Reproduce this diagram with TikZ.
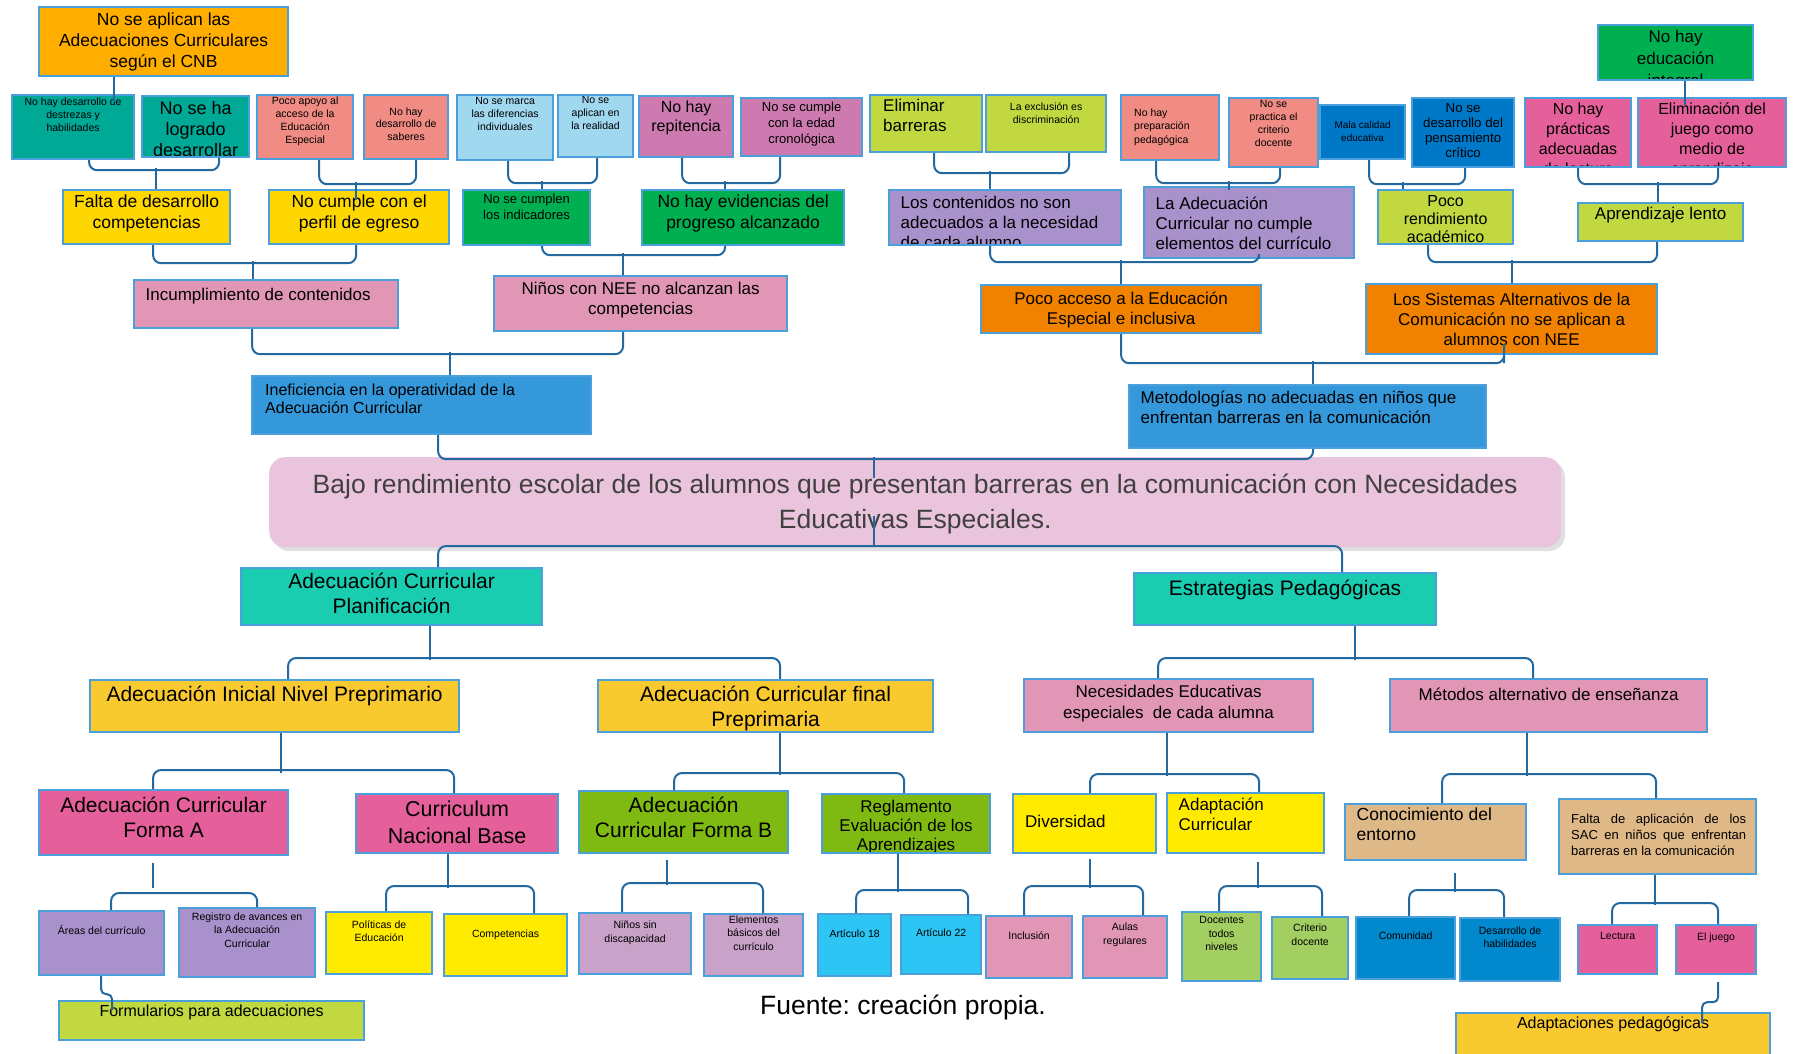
\documentclass[tikz,border=0pt]{standalone}
\usepackage{fontspec}
\setmainfont{Liberation Sans}
\frenchspacing
\newcommand\fz[2]{\fontsize{#1}{#2}\selectfont}
\definecolor{cOrA}{RGB}{255,174,0}
\definecolor{cTeal}{RGB}{0,168,150}
\definecolor{cSal}{RGB}{240,140,132}
\definecolor{cLb}{RGB}{160,216,240}
\definecolor{cMau}{RGB}{204,122,176}
\definecolor{cGr}{RGB}{0,176,80}
\definecolor{cYg}{RGB}{194,216,64}
\definecolor{cPu}{RGB}{169,145,204}
\definecolor{cDb}{RGB}{0,120,200}
\definecolor{cHp}{RGB}{229,96,154}
\definecolor{cYe}{RGB}{255,215,0}
\definecolor{cLp}{RGB}{224,150,180}
\definecolor{cMb}{RGB}{52,152,219}
\definecolor{cOr}{RGB}{240,130,0}
\definecolor{cTp}{RGB}{234,196,220}
\definecolor{cTe2}{RGB}{26,204,176}
\definecolor{cGo}{RGB}{249,201,48}
\definecolor{cGr2}{RGB}{127,186,18}
\definecolor{cLg}{RGB}{162,206,98}
\definecolor{cCy}{RGB}{45,197,244}
\definecolor{cLi}{RGB}{200,162,200}
\definecolor{cTan}{RGB}{222,184,135}
\definecolor{cBy}{RGB}{255,235,0}
\definecolor{cB2}{RGB}{2,136,204}
\definecolor{cBord}{RGB}{75,160,220}
\definecolor{cConn}{RGB}{35,105,160}
\definecolor{cTitle}{RGB}{64,64,64}
\tikzset{
  box/.style={rectangle, draw=cBord, line width=2.2pt, inner sep=0pt, anchor=north west},
  txt/.style={draw=none, fill=none, minimum width=0pt, minimum height=0pt, text=black, yshift=2.5pt},
  tc/.style={anchor=north, at={(path picture bounding box.north)}, align=center, inner xsep=1pt, inner ysep=#1},
  tc/.default=5pt,
  tl/.style={anchor=north west, at={(path picture bounding box.north west)}, align=left, inner xsep=10.5pt, inner ysep=#1},
  tl/.default=5pt,
  ml/.style={anchor=west, at={(path picture bounding box.west)}, align=left, inner xsep=11pt, inner ysep=0pt},
  conn/.style={draw=cConn, line width=2pt, rounded corners=8pt},
}
\newcommand\bx[8]{\node[box, fill=#6, minimum width={(#4-#2)*1pt}, minimum height={(#5-#3)*1pt},
  path picture={\node[txt,#7] {#8};}] (#1) at (#2,#3) {};}
\begin{document}
\begin{tikzpicture}[x=1pt,y=-1pt]
\fill[white] (0,0) rectangle (1798,1053);
\useasboundingbox (0,0) rectangle (1798,1053);
% ---------- top rows ----------
\bx{nsa}{38}{6}{287}{75}{cOrA}{tc=7pt,font=\fz{17.5}{21}}{No se aplican las\\Adecuaciones Curriculares\\según el CNB}
\bx{tA}{11}{94}{133}{158}{cTeal}{tc=4pt,font=\fz{10.5}{13}}{No hay desarrollo de\\destrezas y\\habilidades}
\bx{tB}{141}{95}{248}{156}{cTeal}{tc=6.5pt,font=\fz{18}{21}}{No se ha\\logrado\\desarrollar}
\bx{sA}{256}{94}{352}{158}{cSal}{tc=3pt,font=\fz{10.5}{13}}{Poco apoyo al\\acceso de la\\Educación\\Especial}
\bx{sB}{363}{94}{447}{158}{cSal}{tc=14pt,font=\fz{10.5}{12.5}}{No hay\\desarrollo de\\saberes}
\bx{lA}{456}{94}{552}{159}{cLb}{tc=4pt,font=\fz{10.5}{13}}{No se marca\\las diferencias\\individuales}
\bx{lB}{557}{94}{632}{156}{cLb}{tc=3pt,font=\fz{10.5}{13}}{No se\\aplican en\\la realidad}
\bx{mA}{638}{95}{732}{156}{cMau}{tc=6pt,font=\fz{16}{19}}{No hay\\repitencia}
\bx{mB}{740}{97}{861}{155}{cMau}{tc=5pt,font=\fz{13}{16}}{No se cumple\\con la edad\\cronológica}
\bx{gA}{869}{94}{981}{151}{cYg}{tl=5pt,inner xsep=12pt,font=\fz{17}{20}}{Eliminar\\barreras}
\bx{gB}{985}{94}{1105}{151}{cYg}{tc=9pt,font=\fz{10.5}{13}}{La exclusión es\\discriminación}
\bx{sC}{1120}{94}{1218}{159}{cSal}{tl=15pt,inner xsep=12pt,font=\fz{10.5}{13.5}}{No hay\\preparación\\pedagógica}
\bx{sD}{1228}{97}{1317}{166}{cSal}{tc=4pt,font=\fz{10.5}{13}}{No se\\practica el\\criterio\\docente}
\bx{bA}{1319}{104}{1404}{158}{cDb}{tc=18pt,font=\fz{10}{13}}{Mala calidad\\educativa}
\bx{bB}{1411}{97}{1513}{166}{cDb}{tc=7pt,font=\fz{13.3}{15}}{No se\\desarrollo del\\pensamiento\\crítico}
\bx{gi}{1597}{24}{1752}{79}{cGr}{tc=6pt,font=\fz{17}{22}}{No hay\\educación\\integral}
\bx{pA}{1524}{97}{1630}{166}{cHp}{tc=6pt,font=\fz{16}{20}}{No hay\\prácticas\\adecuadas\\de lectura}
\bx{pB}{1637}{97}{1785}{166}{cHp}{tc=6pt,font=\fz{16}{20}}{Eliminación del\\juego como\\medio de\\aprendizaje}
% second row
\bx{yA}{62}{189}{229}{243}{cYe}{tc=6pt,font=\fz{17.5}{21}}{Falta de desarrollo\\competencias}
\bx{yB}{268}{189}{448}{243}{cYe}{tc=6pt,font=\fz{17.5}{21}}{No cumple con el\\perfil de egreso}
\bx{gC}{462}{189}{589}{244}{cGr}{tc=5pt,font=\fz{13}{16}}{No se cumplen\\los indicadores}
\bx{gD}{641}{189}{843}{244}{cGr}{tc=6pt,font=\fz{17.5}{21}}{No hay evidencias del\\progreso alcanzado}
\bx{puA}{888}{189}{1120}{244}{cPu}{tl=7pt,font=\fz{17}{20}}{Los contenidos no son\\adecuados a la necesidad\\de cada alumno}
\bx{puB}{1143}{186}{1353}{257}{cPu}{tl=11pt,font=\fz{17}{20}}{La Adecuación\\Curricular no cumple\\elementos del currículo}
\bx{gE}{1377}{189}{1512}{243}{cYg}{tc=7pt,font=\fz{16}{18}}{Poco\\rendimiento\\académico}
\bx{gF}{1577}{202}{1742}{240}{cYg}{tc=5pt,font=\fz{17}{20}}{Aprendizaje lento}
% third row
\bx{inc}{133}{279}{397}{327}{cLp}{tl=9pt,font=\fz{17}{20}}{Incumplimiento de contenidos}
\bx{nee}{493}{275}{786}{330}{cLp}{tc=7pt,font=\fz{17}{20}}{Niños con NEE no alcanzan las\\competencias}
\bx{pa}{980}{284}{1260}{332}{cOr}{tc=8pt,font=\fz{17}{20}}{Poco acceso a la Educación\\Especial e inclusiva}
\bx{sac}{1365}{283}{1656}{353}{cOr}{tc=10pt,font=\fz{17}{20}}{Los Sistemas Alternativos de la\\Comunicación no se aplican a\\alumnos con NEE}
% fourth row
\bx{inef}{251}{375}{590}{433}{cMb}{tl=9pt,inner xsep=12pt,font=\fz{16}{18.5}}{Ineficiencia en la operatividad de la\\Adecuación Curricular}
\bx{met}{1128}{384}{1485}{447}{cMb}{tl=7pt,font=\fz{17}{20}}{Metodologías no adecuadas en niños que\\enfrentan barreras en la comunicación}
% ---------- title ----------
\fill[black!12, rounded corners=16pt] (273,461) rectangle (1565,551);
\node[fill=cTp, rounded corners=16pt, minimum width=1292pt, minimum height=90pt, anchor=north west,
  inner sep=0pt] (title) at (269,457) {};
\node[align=center, text=cTitle, inner sep=0pt, font=\fz{26.5}{35}] (titletxt) at ([yshift=-2pt]title.center)
  {Bajo rendimiento escolar de los alumnos que presentan barreras en la comunicación con Necesidades\\Educativas Especiales.};
% ---------- lower part ----------
\bx{plan}{240}{567}{541}{624}{cTe2}{tc=6pt,font=\fz{21}{25}}{Adecuación Curricular\\Planificación}
\bx{est}{1133}{572}{1435}{624}{cTe2}{tc=8pt,font=\fz{21}{25}}{Estrategias Pedagógicas}
\bx{pre}{89}{679}{458}{731}{cGo}{tc=7pt,font=\fz{21}{25}}{Adecuación Inicial Nivel Preprimario}
\bx{fin}{597}{679}{932}{731}{cGo}{tc=7pt,font=\fz{21}{25}}{Adecuación Curricular final\\Preprimaria}
\bx{nec}{1023}{678}{1312}{731}{cLp}{tc=7pt,font=\fz{17}{21}}{Necesidades Educativas\\especiales\ \ de cada alumna}
\bx{mta}{1389}{678}{1706}{731}{cLp}{tc=10pt,font=\fz{17}{21}}{Métodos alternativo de enseñanza}
\bx{fa}{38}{789}{287}{854}{cHp}{tc=8pt,font=\fz{21}{25}}{Adecuación Curricular\\Forma A}
\bx{cnb}{355}{793}{557}{852}{cHp}{tc=8pt,font=\fz{21.5}{27}}{Curriculum\\Nacional Base}
\bx{fb}{578}{790}{787}{852}{cGr2}{tc=7pt,font=\fz{21}{25}}{Adecuación\\Curricular Forma B}
\bx{reg}{821}{793}{989}{852}{cGr2}{tc=7.5pt,font=\fz{17}{19}}{Reglamento\\Evaluación de los\\Aprendizajes}
\bx{div}{1012}{793}{1155}{852}{cBy}{ml,font=\fz{17}{20}}{Diversidad}
\bx{ada}{1166}{792}{1323}{852}{cBy}{tl=6pt,font=\fz{17}{20}}{Adaptación\\Curricular}
\bx{con}{1344}{803}{1525}{859}{cTan}{tl=5pt,font=\fz{17.5}{20}}{Conocimiento del\\entorno}
\bx{fal}{1558}{798}{1755}{873}{cTan}{tl=16pt,inner xsep=11pt,text width=175pt,align=justify,font={\fz{13}{16}\hyphenpenalty=10000}}{Falta de aplicación de los SAC en niños que enfrentan barreras en la comunicación}
% bottom row
\bx{are}{38}{910}{163}{974}{cPu}{tc=16pt,font=\fz{10.5}{13.5}}{Áreas del currículo}
\bx{rgs}{178}{907}{314}{976}{cPu}{tc=6pt,font=\fz{10.5}{13.5}}{Registro de avances en\\la Adecuación\\Curricular}
\bx{pol}{325}{911}{431}{973}{cBy}{tc=10pt,font=\fz{10.5}{13.5}}{Políticas de\\Educación}
\bx{cmp}{443}{913}{566}{975}{cBy}{tc=17pt,font=\fz{10.5}{13.5}}{Competencias}
\bx{nsd}{578}{912}{690}{973}{cLi}{tc=9pt,font=\fz{10.5}{14}}{Niños sin\\discapacidad}
\bx{ebc}{703}{913}{802}{975}{cLi}{tc=3pt,font=\fz{10.5}{13.5}}{Elementos\\básicos del\\currículo}
\bx{aa}{817}{913}{890}{975}{cCy}{tc=17pt,font=\fz{10.5}{13.5}}{Artículo 18}
\bx{ab}{900}{914}{980}{973}{cCy}{tc=15pt,font=\fz{10.5}{13.5}}{Artículo 22}
\bx{inl}{985}{915}{1071}{977}{cLp}{tc=17pt,font=\fz{10.5}{13.5}}{Inclusión}
\bx{aul}{1082}{915}{1166}{977}{cLp}{tc=8pt,font=\fz{10.5}{14}}{Aulas\\regulares}
\bx{doc}{1181}{911}{1260}{980}{cLg}{tc=6pt,font=\fz{10.5}{13.5}}{Docentes\\todos\\niveles}
\bx{cri}{1271}{916}{1347}{978}{cLg}{tc=8pt,font=\fz{10.5}{14}}{Criterio\\docente}
\bx{com}{1355}{916}{1454}{978}{cB2}{tc=16pt,font=\fz{10.5}{13.5}}{Comunidad}
\bx{dh}{1459}{917}{1559}{980}{cB2}{tc=10pt,font=\fz{10.5}{13}}{Desarrollo de\\habilidades}
\bx{lec}{1577}{924}{1656}{973}{cHp}{tc=9pt,font=\fz{10.5}{13.5}}{Lectura}
\bx{ej}{1675}{924}{1755}{973}{cHp}{tc=9pt,font=\fz{10.5}{13.5}}{El juego}
\bx{frm}{58}{1000}{363}{1039}{cYg}{tc=5pt,font=\fz{16}{19}}{Formularios para adecuaciones}
\bx{adp}{1455}{1012}{1769}{1062}{cGo}{tc=5pt,font=\fz{16}{19}}{Adaptaciones pedagógicas}
\node[font=\fz{26.5}{30}, text=black] (fuente) at (903,1007) {Fuente: creación propia.};
% ---------- connectors ----------
\draw[conn] ([xshift=-49.5pt]nsa.south) -- ++(0,25);
\draw[conn] ([xshift=16pt]tA.south) -- ++(0,10) -| ([xshift=23.5pt]tB.south);
\draw[conn] ([xshift=9.5pt]yA.north) -- ++(0,-21);
\draw[conn] ([xshift=14pt]sA.south) -- ++(0,24) -| ([xshift=10pt]sB.south);
\draw[conn] ([xshift=-3pt,yshift=-11pt]yB.north) -- ++(0,-18);
\draw[conn] ([xshift=3pt]lA.south) -- ++(0,22) -| ([xshift=1.5pt]lB.south);
\draw[conn] ([xshift=15.5pt]gC.north) -- ++(0,-8);
\draw[conn] ([xshift=-4pt]mA.south) -- ++(0,25) -| ([xshift=-21.5pt]mB.south);
\draw[conn] ([xshift=-18pt]gD.north) -- ++(0,-8);
\draw[conn] ([xshift=8pt]gA.south) -- ++(0,20) -| ([xshift=23pt]gB.south);
\draw[conn] ([xshift=-15pt]puA.north) -- ++(0,-18);
\draw[conn] ([xshift=-14pt]sC.south) -- ++(0,22) -| ([xshift=6.5pt]sD.south);
\draw[conn] ([xshift=-20pt,yshift=-4pt]puB.north) -- ++(0,-9);
\draw[conn] ([xshift=6.5pt]bA.south) -- ++(0,24) -| ([xshift=2pt]bB.south);
\draw[conn] ([xshift=-42.5pt]gE.north) -- ++(0,-7);
\draw[conn] ([xshift=0pt]pA.south) -- ++(0,16) -| ([xshift=6pt]pB.south);
\draw[conn] ([xshift=-2.5pt]gF.north) -- ++(0,-20);
\draw[conn] ([xshift=9.5pt]gi.south) -- ++(0,24);
\draw[conn] ([xshift=6.5pt]yA.south) -- ++(0,18) -| ([xshift=-3pt]yB.south);
\draw[conn] ([xshift=-13pt]inc.north) -- ++(0,-18);
\draw[conn] ([xshift=15.5pt]gC.south) -- ++(0,9) -| ([xshift=-18pt]gD.south);
\draw[conn] ([xshift=-17.5pt]nee.north) -- ++(0,-22);
\draw[conn] ([xshift=-15pt]puA.south) -- ++(0,16) -| ([xshift=10pt]puB.south);
\draw[conn] (pa.north) -- ++(0,-24);
\draw[conn] ([xshift=-17.5pt]gE.south) -- ++(0,17) -| ([xshift=-3.5pt]gF.south);
\draw[conn] ([xshift=0.5pt]sac.north) -- ++(0,-23);
\draw[conn] ([xshift=-14pt]inc.south) -- ++(0,25) -| ([xshift=-17.5pt]nee.south);
\draw[conn] ([xshift=28.5pt]inef.north) -- ++(0,-23);
\draw[conn] (pa.south) -- ++(0,29) -| ([xshift=-7.5pt]sac.south) -- ++(0,-11);
\draw[conn] ([xshift=5.5pt]met.north) -- ++(0,-23);
\draw[conn] ([xshift=16.5pt]inef.south) -- ++(0,24) -| ([xshift=5.5pt]met.south);
\draw[conn] ([xshift=-41pt]title.north) -- ++(0,21);
\draw[conn] ([xshift=-41pt]title.south) -- ++(0,-31);
\draw[conn] ([xshift=46.5pt]plan.north) -- ++(0,-21) -| ([xshift=57pt]est.north);
\draw[conn] ([xshift=38.5pt]plan.south) -- ++(0,34);
\draw[conn] ([xshift=13.5pt]pre.north) -- ++(0,-21) -| ([xshift=14.5pt]fin.north);
\draw[conn] ([xshift=70pt]est.south) -- ++(0,34);
\draw[conn] ([xshift=-10.5pt]nec.north) -- ++(0,-20) -| ([xshift=-15.5pt]mta.north);
\draw[conn] ([xshift=6.5pt]pre.south) -- ++(0,40);
\draw[conn] ([xshift=-10.5pt]fa.north) -- ++(0,-19) -| ([xshift=-3pt]cnb.north);
\draw[conn] ([xshift=14.5pt]fin.south) -- ++(0,42);
\draw[conn] ([xshift=-9.5pt]fb.north) -- ++(0,-17) -| ([xshift=-2pt]reg.north);
\draw[conn] ([xshift=-1.5pt]nec.south) -- ++(0,43);
\draw[conn] ([xshift=5.5pt]div.north) -- ++(0,-19) -| ([xshift=13.5pt]ada.north);
\draw[conn] ([xshift=-21.5pt]mta.south) -- ++(0,43);
\draw[conn] ([xshift=6.5pt]con.north) -- ++(0,-29) -| ([xshift=-1.5pt]fal.north);
\draw[conn] ([xshift=-10.5pt,yshift=-7pt]fa.south) -- ++(0,25);
\draw[conn] ([xshift=9.5pt]are.north) -- ++(0,-17) -| ([xshift=10pt]rgs.north);
\draw[conn] ([xshift=-9pt]cnb.south) -- ++(0,34);
\draw[conn] ([xshift=7pt]pol.north) -- ++(0,-25) -| ([xshift=28.5pt]cmp.north);
\draw[conn] ([xshift=-16.5pt,yshift=-6pt]fb.south) -- ++(0,25);
\draw[conn] ([xshift=-13pt]nsd.north) -- ++(0,-29) -| ([xshift=9.5pt]ebc.north);
\draw[conn] ([xshift=-8pt]reg.south) -- ++(0,38);
\draw[conn] ([xshift=1.5pt]aa.north) -- ++(0,-23) -| ([xshift=27pt]ab.north);
\draw[conn] ([xshift=5.5pt,yshift=-5pt]div.south) -- ++(0,29);
\draw[conn] ([xshift=-5pt]inl.north) -- ++(0,-29) -| ([xshift=18pt]aul.north);
\draw[conn] ([xshift=12.5pt,yshift=-8pt]ada.south) -- ++(0,26);
\draw[conn] ([xshift=-2.5pt]doc.north) -- ++(0,-25) -| ([xshift=12pt]cri.north);
\draw[conn] ([xshift=19.5pt,yshift=-12pt]con.south) -- ++(0,19);
\draw[conn] ([xshift=3.5pt]com.north) -- ++(0,-26) -| ([xshift=-6pt]dh.north);
\draw[conn] ([xshift=-2.5pt]fal.south) -- ++(0,30);
\draw[conn] ([xshift=-5.5pt]lec.north) -- ++(0,-21) -| ([xshift=2pt]ej.north);
\draw[conn, rounded corners=5pt] ([xshift=-0.5pt]are.south) -- ++(0,18) -| ([xshift=-99.5pt,yshift=-10pt]frm.north);
\draw[conn, rounded corners=5pt] ([xshift=2pt,yshift=-7pt]ej.south) -- ++(0,20) -| ([xshift=89pt,yshift=-11pt]adp.north);
\end{tikzpicture}
\end{document}
